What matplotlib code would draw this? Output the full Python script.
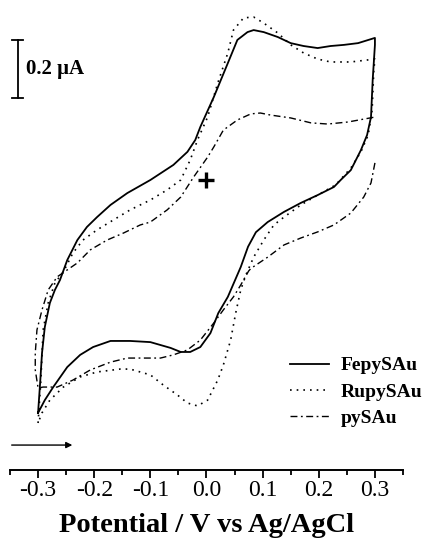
import matplotlib
matplotlib.use("Agg")
import matplotlib.pyplot as plt
from matplotlib.ticker import MultipleLocator

plt.rcParams["font.family"] = "Liberation Serif"

# cyclic voltammograms, potential in V vs Ag/AgCl, current in uA
fe_v = [-0.300, -0.296, -0.293, -0.288, -0.279, -0.270, -0.261, -0.248, -0.230, -0.213,
        -0.195, -0.171, -0.141, -0.100, -0.059, -0.034, -0.020, -0.011, 0.013, 0.038,
        0.055, 0.073, 0.084, 0.102, 0.127, 0.150, 0.173, 0.198, 0.221, 0.245, 0.270, 0.300,
        0.300, 0.296, 0.293, 0.286, 0.275, 0.257, 0.239, 0.227, 0.198, 0.168, 0.138,
        0.109, 0.088, 0.074, 0.061, 0.038, 0.021, 0.007, -0.011, -0.029, -0.046, -0.064, -0.082,
        -0.100, -0.136, -0.171, -0.202, -0.225, -0.248, -0.273, -0.288, -0.300]
fe_i = [-0.803, -0.690, -0.597, -0.507, -0.424, -0.379, -0.345, -0.276, -0.207, -0.162,
        -0.128, -0.086, -0.045, 0.000, 0.052, 0.097, 0.138, 0.183, 0.286, 0.403,
        0.483, 0.510, 0.517, 0.510, 0.493, 0.472, 0.462, 0.455, 0.462, 0.466, 0.472, 0.490,
        0.466, 0.345, 0.217, 0.155, 0.103, 0.034, 0.000, -0.024, -0.052, -0.079, -0.110,
        -0.145, -0.180, -0.230, -0.300, -0.403, -0.459, -0.528, -0.576, -0.593, -0.593, -0.579, -0.569,
        -0.559, -0.555, -0.555, -0.576, -0.603, -0.645, -0.714, -0.759, -0.803]

ru_v = [-0.300, -0.295, -0.291, -0.282, -0.270, -0.255, -0.238, -0.220, -0.195, -0.166,
        -0.136, -0.100, -0.070, -0.046, -0.029, -0.016, 0.002, 0.020, 0.038, 0.048,
        0.066, 0.084, 0.102, 0.127, 0.150, 0.173, 0.198, 0.221, 0.257, 0.300,
        0.298, 0.295, 0.288, 0.275, 0.257, 0.230, 0.198, 0.168, 0.138, 0.120, 0.102,
        0.084, 0.070, 0.061, 0.052, 0.043, 0.030, 0.020, 0.002, -0.016, -0.034, -0.052,
        -0.077, -0.100, -0.136, -0.154, -0.195, -0.225, -0.255, -0.279, -0.293, -0.300]
ru_i = [-0.838, -0.690, -0.517, -0.424, -0.355, -0.317, -0.252, -0.207, -0.172, -0.138,
        -0.103, -0.069, -0.034, 0.000, 0.069, 0.138, 0.217, 0.334, 0.438, 0.517,
        0.559, 0.562, 0.541, 0.507, 0.466, 0.438, 0.417, 0.407, 0.407, 0.417,
        0.379, 0.241, 0.155, 0.097, 0.041, -0.017, -0.052, -0.086, -0.128, -0.155, -0.207,
        -0.266, -0.328, -0.379, -0.459, -0.552, -0.638, -0.690, -0.759, -0.779, -0.769, -0.741,
        -0.707, -0.672, -0.652, -0.652, -0.662, -0.679, -0.714, -0.759, -0.803, -0.838]

# pySAu loop is open at +0.3 V
py_v = [0.300, 0.293, 0.280, 0.257, 0.227, 0.198, 0.168, 0.138, 0.109, 0.079, 0.075,
        0.061, 0.048, 0.030, 0.013, -0.011, -0.034, -0.059, -0.082, -0.118, -0.141,
        -0.171, -0.207, -0.238, -0.266, -0.291, -0.300,
        -0.305, -0.305, -0.302, -0.293, -0.282, -0.266, -0.230, -0.207, -0.177, -0.148,
        -0.118, -0.100, -0.070, -0.046, -0.023, 0.002, 0.013, 0.030, 0.055, 0.079, 0.096,
        0.114, 0.150, 0.186, 0.216, 0.252, 0.280, 0.300]
py_i = [0.059, -0.010, -0.059, -0.114, -0.155, -0.179, -0.200, -0.224, -0.266, -0.305, -0.314,
        -0.362, -0.403, -0.448, -0.493, -0.552, -0.586, -0.603, -0.614, -0.614, -0.614,
        -0.628, -0.655, -0.690, -0.714, -0.714, -0.717,
        -0.655, -0.597, -0.517, -0.448, -0.379, -0.334, -0.286, -0.241, -0.207, -0.183,
        -0.155, -0.145, -0.103, -0.059, 0.010, 0.079, 0.114, 0.172, 0.207, 0.228, 0.231,
        0.224, 0.214, 0.197, 0.193, 0.200, 0.210, 0.217]

fig = plt.figure(figsize=(4.27, 5.42), dpi=100)
ax = fig.add_axes([10 / 427, 72 / 542, 393 / 427, 470 / 542])

ax.plot(fe_v, fe_i, color="black", lw=1.3, label="FepySAu", solid_joinstyle="round")
ax.plot(ru_v, ru_i, color="black", lw=1.2, ls=(0, (1, 3)), label="RupySAu")
ax.plot(py_v, py_i, color="black", lw=1.0, ls=(0, (5, 2.5, 1.3, 2.5)), label="pySAu")

ax.plot([0], [0], marker="+", color="black", ms=12, mew=2.4)

# scale bar
ax.plot([-0.336, -0.336], [0.283, 0.483], color="black", lw=1.3)
ax.plot([-0.346, -0.326], [0.483, 0.483], color="black", lw=1.3)
ax.plot([-0.346, -0.326], [0.283, 0.283], color="black", lw=1.3)
ax.text(-0.322, 0.383, "0.2 μA", fontsize=15, fontweight="bold", va="center", ha="left")

# scan direction
ax.annotate("", xy=(-0.239, -0.914), xytext=(-0.347, -0.914),
            arrowprops=dict(arrowstyle="-|>", color="black", lw=1.0,
                            mutation_scale=9, shrinkA=0, shrinkB=0))

ax.set_xlim(-0.35, 0.35)
ax.set_ylim(-1.0, 0.6207)
for s in ["top", "left", "right"]:
    ax.spines[s].set_visible(False)
ax.spines["bottom"].set_linewidth(1.4)
ax.set_yticks([])
ax.xaxis.set_major_locator(MultipleLocator(0.1))
ax.xaxis.set_minor_locator(MultipleLocator(0.05))
ax.tick_params(axis="x", which="major", length=6, width=1.3, labelsize=17, pad=1)
ax.tick_params(axis="x", which="minor", length=3.5, width=1.3)
ax.set_xticks([-0.3, -0.2, -0.1, 0.0, 0.1, 0.2, 0.3])
ax.set_xticklabels(["-0.3", "-0.2", "-0.1", "0.0", "0.1", "0.2", "0.3"])
ax.set_xlabel("Potential / V vs Ag/AgCl", fontsize=20.5, fontweight="bold", labelpad=9)

leg = ax.legend(loc="upper left", bbox_to_anchor=(272 / 393, 1 - 349 / 470), frameon=False,
                handlelength=2.0, handletextpad=0.6, labelspacing=0.45,
                prop={"weight": "bold", "size": 14}, borderaxespad=0)

fig.savefig("out.png", dpi=100)
